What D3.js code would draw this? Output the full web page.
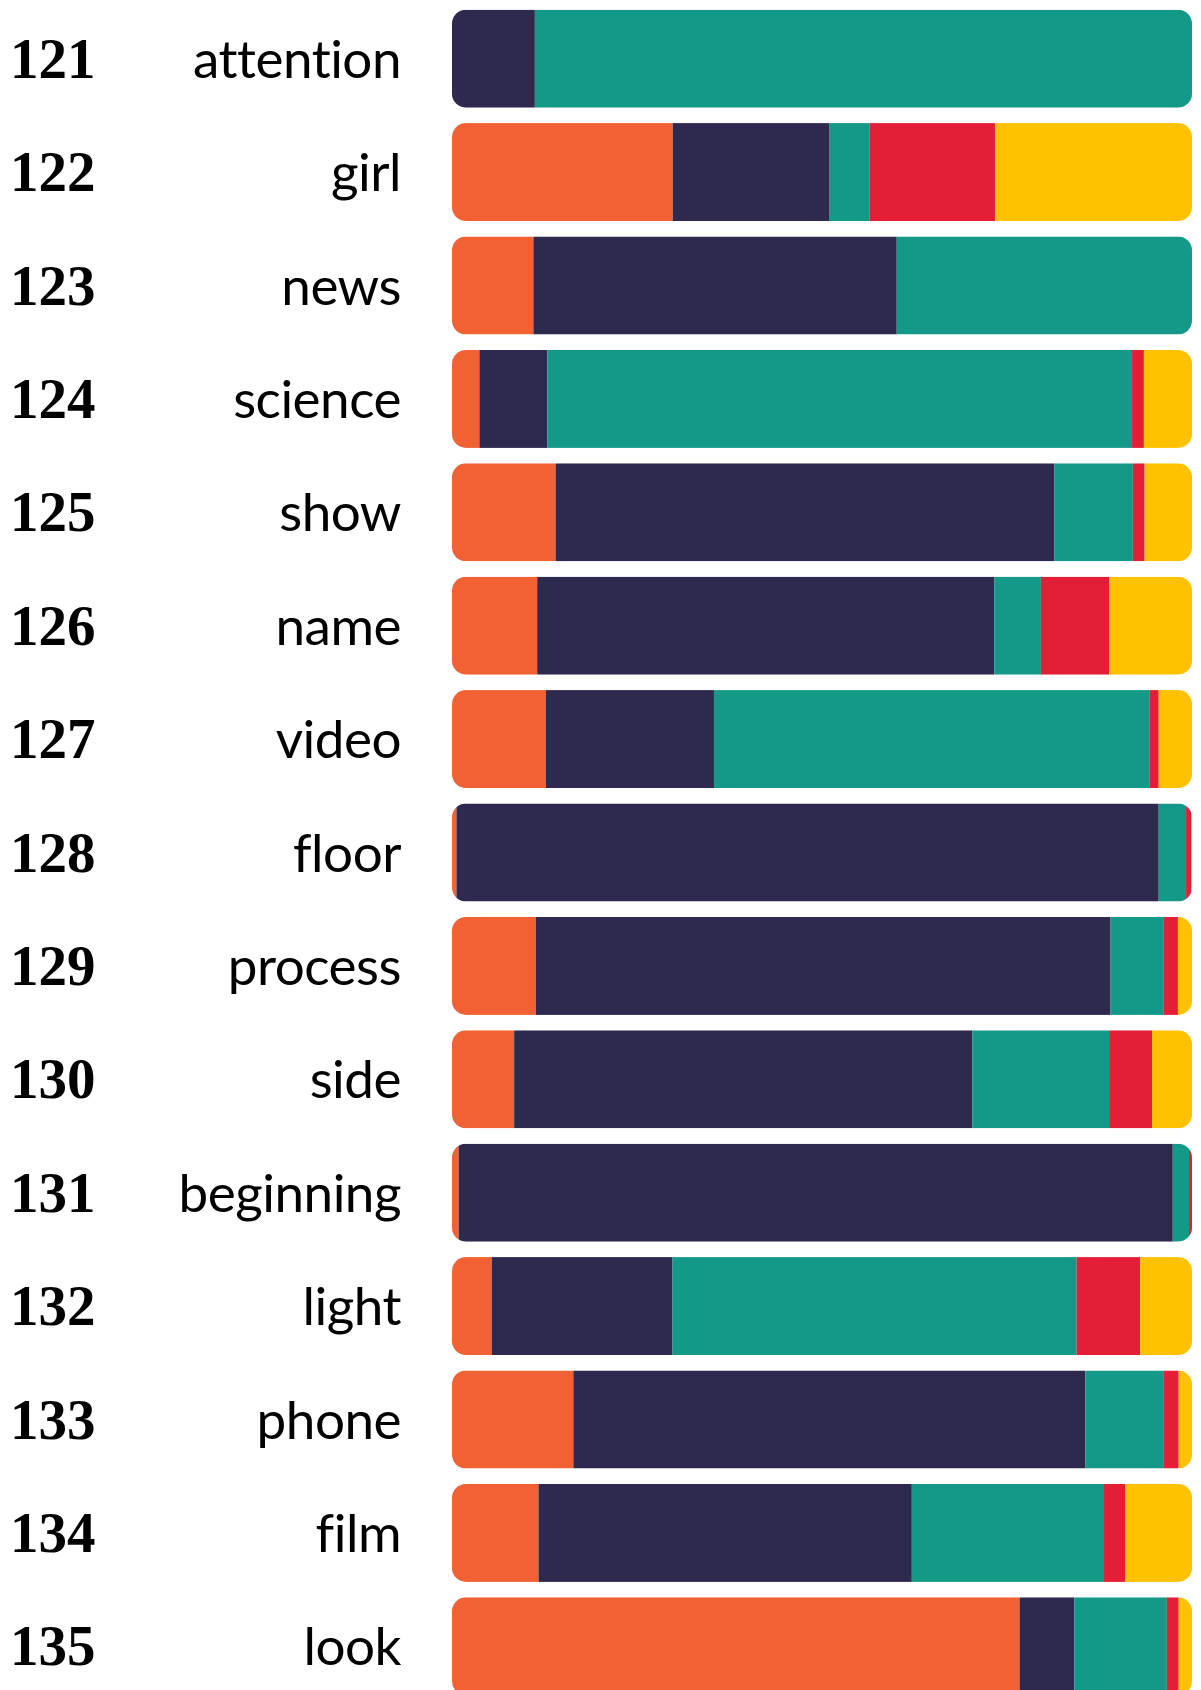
<!DOCTYPE html>
<html>
<head>
<meta charset="utf-8">
<script src="https://cdn.jsdelivr.net/npm/d3@7"></script>
<style>
  body { margin: 0; background: #fff; }
  svg { display: block; }
</style>
</head>
<body>
<div id="chart"></div>
<script>
// rows
var ranks = [121, 122, 123, 124, 125, 126, 127, 128, 129, 130, 131, 132, 133, 134, 135];
var words = ["attention", "girl", "news", "science", "show", "name", "video", "floor",
             "process", "side", "beginning", "light", "phone", "film", "look"];

// share of each category per row (%)
var orangeVals = [0.0, 29.8, 11.0, 3.7, 14.0, 11.5, 12.7, 0.6, 11.3, 8.4, 0.9, 5.4, 16.4, 11.7, 76.7];
var navyVals   = [11.2, 21.1, 49.1, 9.2, 67.4, 61.7, 22.7, 94.9, 77.6, 61.9, 96.5, 24.4, 69.2, 50.5, 7.4];
var tealVals   = [88.8, 5.5, 39.9, 79.0, 10.6, 6.3, 58.9, 3.7, 7.2, 18.5, 2.2, 54.6, 10.6, 26.0, 12.5];
var redVals    = [0.0, 16.9, 0.0, 1.6, 1.6, 9.2, 1.2, 0.7, 1.9, 5.8, 0.4, 8.6, 2.0, 2.9, 1.6];
var yellowVals = [0.0, 26.6, 0.0, 6.5, 6.4, 11.2, 4.5, 0.1, 1.9, 5.4, 0.0, 7.0, 1.8, 9.0, 1.8];

var keys = ["orange", "navy", "teal", "red", "yellow"];
var colors = ["#F26134", "#2E294E", "#149887", "#E31E36", "#FFC100"];

var width = 1201, height = 1690;

var rows = ranks.map(function(r, i) {
  return { rank: r, word: words[i], orange: orangeVals[i], navy: navyVals[i],
           teal: tealVals[i], red: redVals[i], yellow: yellowVals[i] };
});
// normalise each row to 1
rows.forEach(function(d) {
  var tot = d3.sum(keys, function(k) { return d[k]; });
  keys.forEach(function(k) { d[k] = d[k] / tot; });
});

var svg = d3.select("#chart").append("svg")
    .attr("width", width)
    .attr("height", height);

var step = 113.4, pad = (step - 98) / step;
var y = d3.scaleBand()
    .domain(ranks)
    .range([2, 2 + ranks.length * step])
    .paddingInner(pad)
    .paddingOuter(pad / 2);

var x = d3.scaleLinear().domain([0, 1]).range([452, 1192]);
var color = d3.scaleOrdinal().domain(keys).range(colors);

var stacked = d3.stack().keys(keys)(rows);

// clip paths, one rounded rect per row
var defs = svg.append("defs");
defs.selectAll("clipPath")
  .data(rows)
  .enter().append("clipPath")
    .attr("id", function(d) { return "clip" + d.rank; })
  .append("rect")
    .attr("x", x(0))
    .attr("y", function(d) { return y(d.rank); })
    .attr("width", x(1) - x(0))
    .attr("height", y.bandwidth())
    .attr("rx", 14)
    .attr("ry", 14);

var rowG = svg.selectAll("g.row")
  .data(rows)
  .enter().append("g")
    .attr("class", "row")
    .attr("clip-path", function(d) { return "url(#clip" + d.rank + ")"; });

rowG.selectAll("rect")
  .data(function(d, i) {
    return stacked.map(function(s) {
      return { key: s.key, rank: d.rank, x0: s[i][0], x1: s[i][1] };
    });
  })
  .enter().append("rect")
    .attr("x", function(d) { return x(d.x0); })
    .attr("y", function(d) { return y(d.rank); })
    .attr("width", function(d) { return Math.max(0, x(d.x1) - x(d.x0)); })
    .attr("height", y.bandwidth())
    .style("fill", function(d) { return color(d.key); });

// rank numbers
svg.selectAll("text.rank")
  .data(rows)
  .enter().append("text")
    .attr("class", "rank")
    .attr("x", 10)
    .attr("y", function(d) { return y(d.rank) + y.bandwidth() / 2 + 19; })
    .style("font-family", "'Liberation Serif', serif")
    .style("font-weight", "bold")
    .style("font-size", "57px")
    .style("fill", "#000")
    .text(function(d) { return d.rank; });

// words
svg.selectAll("text.word")
  .data(rows)
  .enter().append("text")
    .attr("class", "word")
    .attr("x", 401)
    .attr("y", function(d) { return y(d.rank) + y.bandwidth() / 2 + 19; })
    .attr("text-anchor", "end")
    .style("font-family", "Lato, sans-serif")
    .style("font-size", "53px")
    .style("font-variant-ligatures", "none")
    .style("letter-spacing", "-0.5px")
    .style("fill", "#000")
    .text(function(d) { return d.word; });
</script>
</body>
</html>
